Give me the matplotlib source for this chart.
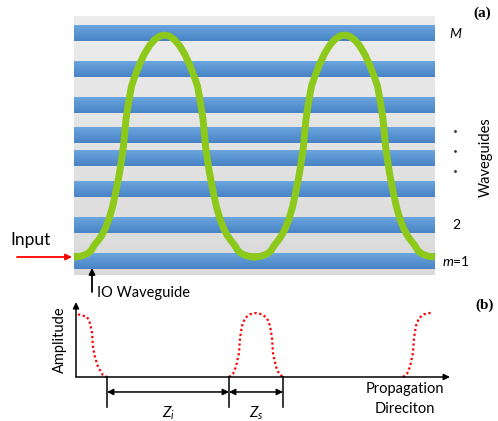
import numpy as np

import matplotlib

matplotlib.use("Agg")
import matplotlib.pyplot as plt
from matplotlib.colors import LinearSegmentedColormap

plt.rcParams["font.family"] = ["Lato", "DejaVu Sans"]
plt.rcParams["mathtext.fontset"] = "custom"
plt.rcParams["mathtext.rm"] = "Lato"
plt.rcParams["mathtext.it"] = "Lato:italic"

# (a) waveguide array: guide bottoms measured up from the array edge
ARRAY_LENGTH = 361
ARRAY_WIDTH = 259
guide_bottom = [5.7, 41.7, 78.3, 109.0, 131.7, 161.7, 198.3, 234.3]
guide_height = 16
guide_labels = {0: "$m$=1", 1: "2", 7: "$M$"}
ellipsis_y = [144, 124, 104]

# light path: one half of a hump, distance from its peak vs transverse position
hump_dz = [0, 5, 10, 15, 20, 25, 30, 33, 36, 38.5, 41, 43, 45, 48.5, 52, 55.5,
           59, 62.5, 66, 70, 73, 76, 80, 84, 90.5]
hump_y = [240, 238.8, 235.3, 229.4, 221.2, 210.6, 197.6, 189, 172, 156, 129, 115,
          102, 84, 68, 56, 47, 40, 35, 30, 25, 22, 20, 18.7, 18]
peak_z = [90.5, 270.5]

# (b) amplitude seen on the IO waveguide
pulse1_z = [4, 13, 16, 18, 19, 21, 24, 29, 33]
pulse1_amp = [0.98, 0.94, 0.84, 0.69, 0.47, 0.31, 0.16, 0.03, 0.0]
pulse2_z = [155, 159, 162, 165, 166, 168, 171, 176, 182, 188, 193, 196, 198, 199, 202, 205, 209]
pulse2_amp = [0, 0.05, 0.16, 0.375, 0.61, 0.80, 0.92, 0.98, 1.0, 0.98, 0.92, 0.80, 0.61, 0.375, 0.16, 0.05, 0]
pulse3_z = [329, 333, 336, 339, 340, 342, 345, 350, 356, 359]
pulse3_amp = [0, 0.05, 0.16, 0.375, 0.61, 0.80, 0.92, 0.98, 1.0, 1.0]
edge_z = [33, 155, 209]
span_labels = ["$Z_i$", "$Z_s$"]

# mirror the half-hump around each peak to get the full path
path_z, path_y = [], []
for pz in peak_z:
    path_z += [pz - d for d in hump_dz[::-1]] + [pz + d for d in hump_dz[1:]]
    path_y += hump_y[::-1] + hump_y[1:]

W, H = 498, 421
fig = plt.figure(figsize=(W / 100, H / 100), dpi=100)

# ---------- panel (a)
ax_a = fig.add_axes([0, 141 / H, 1, 280 / H])
ax_a.axis("off")

gray = LinearSegmentedColormap.from_list("gray", ["#dadada", "#ececec"])
blue = LinearSegmentedColormap.from_list("blue", ["#4884c6", "#6aa5dd"])
grad = np.linspace(0, 1, 64).reshape(-1, 1)

ax_a.imshow(grad, cmap=gray, origin="lower", aspect="auto",
            extent=(0, ARRAY_LENGTH, 0, ARRAY_WIDTH), interpolation="bilinear")
for lo in guide_bottom:
    ax_a.imshow(grad, cmap=blue, origin="lower", aspect="auto",
                extent=(0, ARRAY_LENGTH, lo, lo + guide_height), interpolation="bilinear")

ax_a.plot(path_z, path_y, color="#8cc91a", lw=5, solid_joinstyle="round", solid_capstyle="butt")

for idx, text in guide_labels.items():
    ax_a.text(382, guide_bottom[idx] + guide_height / 2, text, ha="center", va="center",
              fontsize=10)
ax_a.plot([381] * len(ellipsis_y), ellipsis_y, ls="none", marker=".", ms=2, color="#333333")
ax_a.text(412, 118, "Waveguides", rotation=90, ha="center", va="center", fontsize=10.5)
ax_a.text(408, 262, "(a)", ha="center", va="center", fontsize=11, fontweight="bold",
          family="Liberation Serif")

ax_a.text(-43, 35, "Input", ha="center", va="center", fontsize=12.5)
ax_a.annotate("", xy=(-2, 18), xytext=(-57, 18),
              arrowprops=dict(arrowstyle="-|>", color="red", lw=1.3, mutation_scale=9,
                              shrinkA=0, shrinkB=0))
ax_a.annotate("", xy=(18, 7), xytext=(18, -17),
              arrowprops=dict(arrowstyle="-|>", color="black", lw=1.3, mutation_scale=9,
                              shrinkA=0, shrinkB=0))
ax_a.text(23, -18, "IO Waveguide", ha="left", va="center", fontsize=10.5)

ax_a.set_xlim(-74, 424)
ax_a.set_ylim(-5, 275)

# ---------- panel (b)
ax_b = fig.add_axes([0, 0, 1, 141 / H])
ax_b.axis("off")

arrow_kw = dict(arrowstyle="-|>", color="black", lw=1.1, mutation_scale=9, shrinkA=0, shrinkB=0)
ax_b.annotate("", xy=(2, 1.17), xytext=(2, 0), arrowprops=arrow_kw)
ax_b.annotate("", xy=(376, 0), xytext=(2, 0), arrowprops=arrow_kw)

for z, amp in [(pulse1_z, pulse1_amp), (pulse2_z, pulse2_amp), (pulse3_z, pulse3_amp)]:
    ax_b.plot(z, amp, color="red", ls=(0, (1, 1.2)), lw=1.6)

for z in edge_z:
    ax_b.plot([z, z], [0, -0.47], color="black", lw=1.1)
dim_kw = dict(arrowstyle="<|-|>", color="black", lw=1.1, mutation_scale=9, shrinkA=0, shrinkB=0)
for (z0, z1), label in zip(zip(edge_z[:-1], edge_z[1:]), span_labels):
    ax_b.annotate("", xy=(z1, -0.234), xytext=(z0, -0.234), arrowprops=dim_kw)
    ax_b.text((z0 + z1) / 2, -0.56, label, ha="center", va="center", fontsize=11)

ax_b.text(-14, 0.58, "Amplitude", rotation=90, ha="center", va="center", fontsize=10.5)
ax_b.text(331, -0.19, "Propagation", ha="center", va="center", fontsize=10.5)
ax_b.text(331, -0.5, "Direciton", ha="center", va="center", fontsize=10.5)
ax_b.text(411, 1.125, "(b)", ha="center", va="center", fontsize=11, fontweight="bold",
          family="Liberation Serif")

ax_b.set_xlim(-74, 424)
ax_b.set_ylim(-0.6875, 1.5156)

fig.savefig("out.png", dpi=100)
